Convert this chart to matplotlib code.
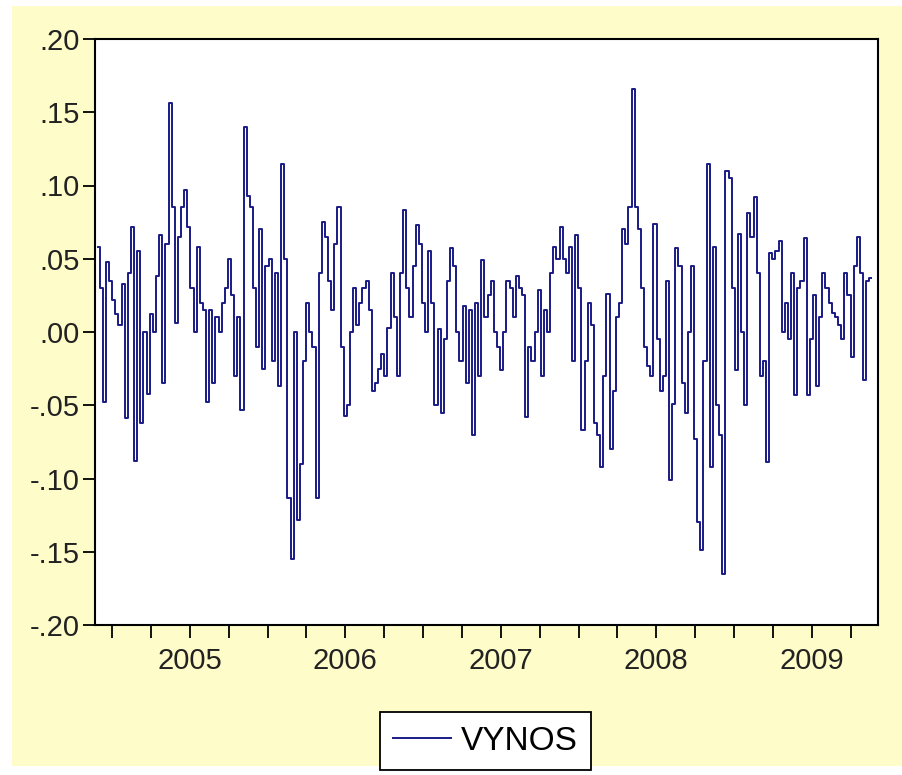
import numpy as np
import matplotlib
matplotlib.use('Agg')
import matplotlib.pyplot as plt
from matplotlib.patches import Rectangle
from matplotlib.ticker import FixedLocator, FixedFormatter

plt.rcParams['font.family'] = ['Liberation Sans', 'DejaVu Sans']

# weekly returns (late 2004 .. late 2009)
vynos_a = [0.058, 0.030, -0.048, 0.048, 0.035, 0.022, 0.012, 0.005, 0.033, -0.059,
           0.040, 0.072, -0.088, 0.055, -0.062, 0.000, -0.042, 0.012, 0.000, 0.038,
           0.066, -0.035, 0.060, 0.156, 0.085, 0.006, 0.065, 0.085, 0.097, 0.072,
           0.030, 0.000, 0.058, 0.020, 0.015, -0.048, 0.015, -0.035, 0.010, 0.000,
           0.020, 0.030, 0.050, 0.025, -0.030, 0.010, -0.053, 0.140, 0.093, 0.085,
           0.030, -0.010, 0.070, -0.025, 0.045, 0.050, -0.020, 0.040, -0.037, 0.115,
           0.050, -0.113, -0.155, 0.000, -0.128, -0.090, -0.020, 0.020, 0.000, -0.010,
           -0.113, 0.040, 0.075, 0.065, 0.035, 0.015, 0.060, 0.085, -0.010, -0.057,
           -0.050, 0.000, 0.030, 0.005, 0.020, 0.030, 0.035, 0.015, -0.040, -0.035,
           -0.025, -0.015, -0.030, 0.003, 0.040, 0.010, -0.030, 0.040, 0.083, 0.030,
           0.010, 0.045, 0.073, 0.060, 0.020, 0.000, 0.055, 0.020, -0.050, 0.002,
           -0.055, -0.005, 0.035, 0.057, 0.045, 0.000, -0.020, 0.018, -0.035, 0.015,
           -0.070]
vynos_b = [0.020, -0.030, 0.049, 0.010, 0.025, 0.035, 0.000, -0.010, -0.026, 0.000,
           0.035, 0.030, 0.010, 0.038, 0.030, 0.025, -0.058, -0.010, -0.020, 0.000,
           0.029, -0.030, 0.015, 0.000, 0.040, 0.058, 0.050, 0.072, 0.050, 0.040,
           0.058, -0.020, 0.066, 0.030, -0.067, -0.020, 0.020, 0.005, -0.062, -0.070,
           -0.092, -0.030, 0.026, -0.080, -0.040, 0.010, 0.020, 0.070, 0.060, 0.085,
           0.166, 0.085, 0.070, 0.030, -0.010, -0.023, -0.030, 0.074, -0.005, -0.040,
           -0.030, 0.035, -0.101, -0.049, 0.057, 0.045, -0.035, -0.055, 0.000, 0.045,
           -0.073, -0.130, -0.149, -0.020, 0.115, -0.092, 0.058, -0.050, -0.070, -0.165,
           0.110, 0.105, 0.030, -0.026, 0.067, 0.000, -0.050, 0.081, 0.065, 0.092,
           0.040, -0.030, -0.020, -0.089, 0.054, 0.050, 0.055, 0.062, 0.000, 0.020,
           -0.005, 0.040, -0.043, 0.030, 0.035, 0.064, -0.043, -0.005, 0.025, -0.037,
           0.010, 0.040, 0.030, 0.020, 0.013, 0.010, 0.005, -0.005, 0.040, 0.025,
           -0.017, 0.045, 0.065, 0.040, -0.033, 0.035, 0.037]
vynos = vynos_a + vynos_b

first_week = 2004.91
last_week = 2009.88
year_labels = ['2005', '2006', '2007', '2008', '2009']
y_ticks = [0.20, 0.15, 0.10, 0.05, 0.00, -0.05, -0.10, -0.15, -0.20]
y_labels = ['.20', '.15', '.10', '.05', '.00', '-.05', '-.10', '-.15', '-.20']

weeks = np.linspace(first_week, last_week, len(vynos))

fig = plt.figure(figsize=(9.03, 7.75), dpi=100)
fig.patch.set_facecolor('white')
fig.patches.append(Rectangle((12 / 903, 1 - 766 / 775), 1 - 12 / 903, (766 - 6) / 775,
                             transform=fig.transFigure, facecolor='#FEFCC8',
                             edgecolor='none', zorder=-10))

ax = fig.add_axes([95 / 903, 1 - 625 / 775, 783 / 903, 586 / 775])
ax.set_facecolor('white')
ax.plot(weeks, vynos, color='#1A1A86', linewidth=1.4, drawstyle='steps-mid',
        label='VYNOS')

ax.set_ylim(-0.20, 0.20)
ax.set_xlim(2004.89, 2009.926)
ax.set_yticks(y_ticks)
ax.set_yticklabels(y_labels)

# quarter ticks, year labels centred in the year
quarters = [2005 + 0.25 * k for k in range(20)]
ax.xaxis.set_major_locator(FixedLocator([int(y) + 0.5 for y in year_labels]))
ax.xaxis.set_major_formatter(FixedFormatter(year_labels))
ax.xaxis.set_minor_locator(FixedLocator(quarters))

ax.tick_params(axis='both', which='both', direction='out', length=9, width=1.3,
               color='black', labelsize=21, labelcolor='#222222')
ax.tick_params(axis='x', which='major', pad=7)
ax.tick_params(axis='y', pad=2)
for s in ax.spines.values():
    s.set_linewidth(1.5)
    s.set_color('black')

leg = fig.legend(loc='center', bbox_to_anchor=(485.5 / 903, 1 - 741 / 775),
                 fontsize=24, handlelength=1.75, handletextpad=0.3,
                 fancybox=False, framealpha=1, edgecolor='black',
                 borderpad=0.4)
leg.get_frame().set_linewidth(1.3)

fig.savefig('out.png', dpi=100)
